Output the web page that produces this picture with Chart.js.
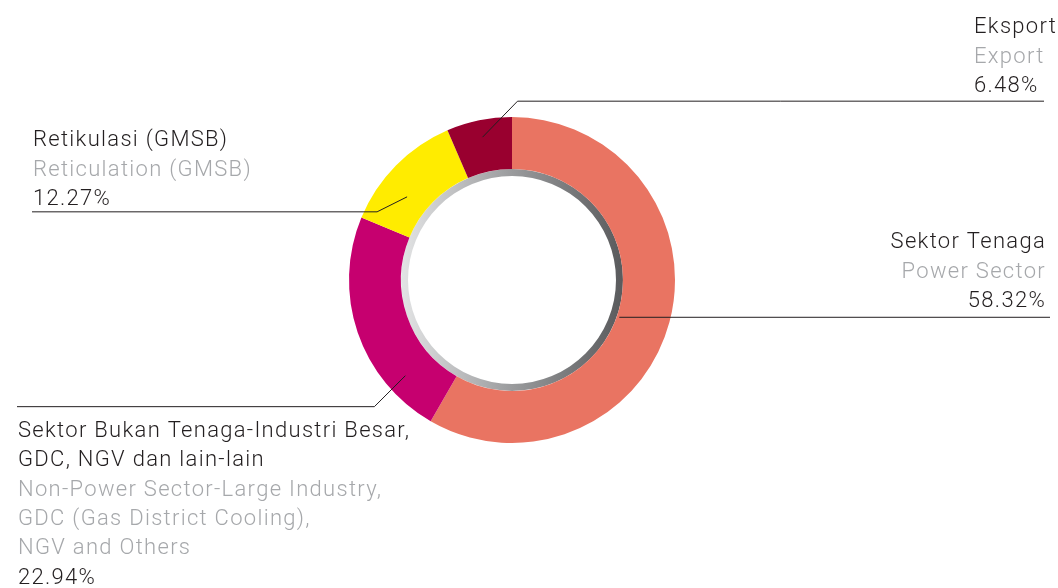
<!DOCTYPE html>
<html>
<head>
<meta charset="utf-8">
<script src="https://cdn.jsdelivr.net/npm/chart.js@4"></script>
<style>
  html, body { margin: 0; padding: 0; background: #fff; }
  #wrap { width: 1058px; height: 588px; position: relative; }
</style>
</head>
<body>
<div id="wrap"><canvas id="donut"></canvas></div>
<script>
// data, clockwise from 12 o'clock
const labelsMalay = ['Sektor Tenaga', 'Sektor Bukan Tenaga-Industri Besar, GDC, NGV dan lain-lain', 'Retikulasi (GMSB)', 'Eksport'];
const labelsEnglish = ['Power Sector', 'Non-Power Sector-Large Industry, GDC (Gas District Cooling), NGV and Others', 'Reticulation (GMSB)', 'Export'];
const shares = [58.32, 22.94, 12.27, 6.48];
const colors = ['#e97462', '#c6006f', '#ffec00', '#99002f'];

// how each callout is laid out (text block + leader line)
const callouts = [
  { t: 0.52, r: 0.05, elbow: null, lineTo: 1050, align: 'right', textX: 1046, lastBase: 307,
    malay: ['Sektor Tenaga'], english: ['Power Sector'] },
  { t: 0.22, r: 0.62, elbow: [-31, 31], lineTo: 17, align: 'left', textX: 18, firstBase: 437,
    malay: ['Sektor Bukan Tenaga-Industri Besar,', 'GDC, NGV dan lain-lain'],
    english: ['Non-Power Sector-Large Industry,', 'GDC (Gas District Cooling),', 'NGV and Others'] },
  { t: 0.36, r: 0.44, elbow: [-30, 15], lineTo: 32, align: 'left', textX: 33, lastBase: 205,
    malay: ['Retikulasi (GMSB)'], english: ['Reticulation (GMSB)'] },
  { t: 0.5, r: 0.67, elbow: [35, -36], lineTo: 1044, align: 'left', textX: 974, lastBase: 92,
    malay: ['Eksport'], english: ['Export'] }
];

const FONT = '300 22px Roboto, "Liberation Sans", sans-serif';
const LINE_H = 29.3;

const calloutPlugin = {
  id: 'callouts',
  afterDraw(chart) {
    const ctx = chart.ctx;
    const arcs = chart.getDatasetMeta(0).data;
    ctx.save();
    ctx.font = FONT;
    ctx.letterSpacing = '1.3px';
    ctx.textBaseline = 'alphabetic';
    callouts.forEach((c, i) => {
      const arc = arcs[i];
      const a = arc.startAngle + (arc.endAngle - arc.startAngle) * c.t;
      const rr = arc.innerRadius + (arc.outerRadius - arc.innerRadius) * c.r;
      const ax = arc.x + Math.cos(a) * rr;
      const ay = arc.y + Math.sin(a) * rr;
      ctx.strokeStyle = '#231f20';
      ctx.lineWidth = 1;
      ctx.beginPath();
      ctx.moveTo(ax, ay);
      let ey = ay;
      if (c.elbow) {
        ey = ay + c.elbow[1];
        ctx.lineTo(ax + c.elbow[0], ey);
      }
      ctx.lineTo(c.lineTo, ey);
      ctx.stroke();

      const lines = [];
      c.malay.forEach(s => lines.push([s, '#231f20']));
      c.english.forEach(s => lines.push([s, '#a6a8ab']));
      lines.push([shares[i].toFixed(2) + '%', '#231f20']);
      let y0 = c.firstBase !== undefined ? c.firstBase : c.lastBase - (lines.length - 1) * LINE_H;
      ctx.textAlign = c.align;
      lines.forEach((ln, k) => {
        ctx.fillStyle = ln[1];
        ctx.fillText(ln[0], c.textX, y0 + k * LINE_H);
      });
    });
    ctx.restore();
  }
};

function ringGradient(context) {
  const chart = context.chart;
  const area = chart.chartArea;
  if (!area) return '#999';
  const g = chart.ctx.createLinearGradient(area.left + 50, 0, area.right - 50, 0);
  g.addColorStop(0, '#e4e5e6');
  g.addColorStop(0.5, '#9a9b9d');
  g.addColorStop(1, '#58595b');
  return g;
}

new Chart(document.getElementById('donut'), {
  type: 'doughnut',
  data: {
    labels: labelsEnglish,
    datasets: [
      { data: shares, backgroundColor: colors, borderWidth: 0, hoverOffset: 0, weight: 52 },
      { data: [1], backgroundColor: ringGradient, borderWidth: 0, hoverOffset: 0, weight: 7 }
    ]
  },
  options: {
    responsive: true,
    maintainAspectRatio: false,
    animation: false,
    cutout: '63.8%',
    layout: { padding: { left: 349, right: 383, top: 117, bottom: 145 } },
    plugins: {
      legend: { display: false },
      tooltip: { enabled: false }
    }
  },
  plugins: [calloutPlugin]
});
</script>
</body>
</html>
